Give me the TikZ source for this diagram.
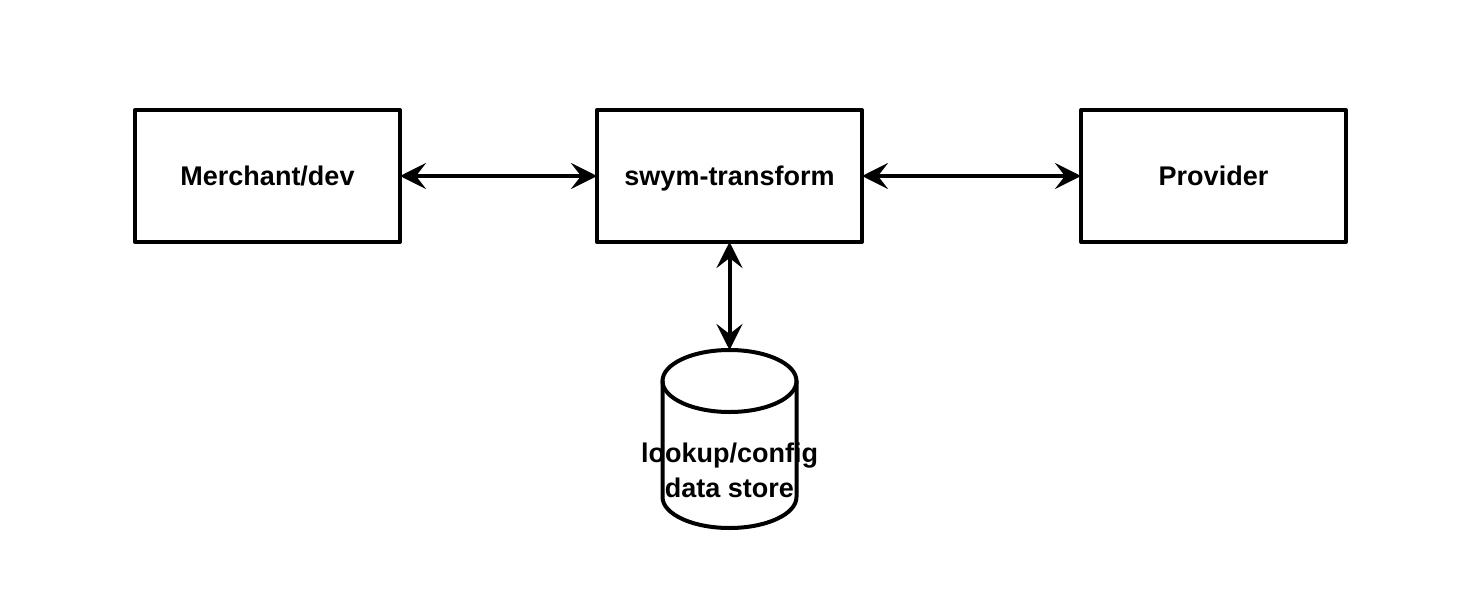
\documentclass[tikz,border=0pt]{standalone}
\usepackage{fontspec}
\setmainfont{Liberation Sans}
\usepackage{tikz}
\usetikzlibrary{arrows.meta}
\tikzset{box/.style={draw,line width=2pt,minimum width=132.5pt,minimum height=66pt,inner sep=0pt,outer sep=0pt,text height=9.7pt,text depth=0pt,font=\fontsize{13.5}{17.5}\selectfont\bfseries}}

\begin{document}
\begin{tikzpicture}[line cap=round,line join=round,>={Stealth[length=13pt,width=13pt,inset=5pt]},x=0.5pt,y=0.5pt]
	\useasboundingbox (0,0) rectangle (1480,602);
	\node[box] (merchant) at (267.5,426) {Merchant/dev};
	\node[box] (swym) at (729.5,426) {swym-transform};
	\node[box] (provider) at (1213.5,426) {Provider};
	% data store
	\node[inner sep=0pt,outer sep=0pt,minimum width=67pt,minimum height=89pt] (store) at (729.5,163) {};
	\draw[line width=2pt] (729.5,221) ellipse (67 and 31);
	\draw[line width=2pt] (662.5,221) -- (662.5,105) arc (180:360:67 and 31) -- (796.5,221);
	\node[align=center,inner sep=0pt,font=\fontsize{13.5}{17.5}\selectfont\bfseries] (storetext) at (729.5,132) {lookup/config\\data store};
	\draw[<->,line width=2pt] (merchant) -- (swym);
	\draw[<->,line width=2pt] (swym) -- (provider);
	\draw[<->,line width=2pt] (swym) -- (store);
\end{tikzpicture}
\end{document}
